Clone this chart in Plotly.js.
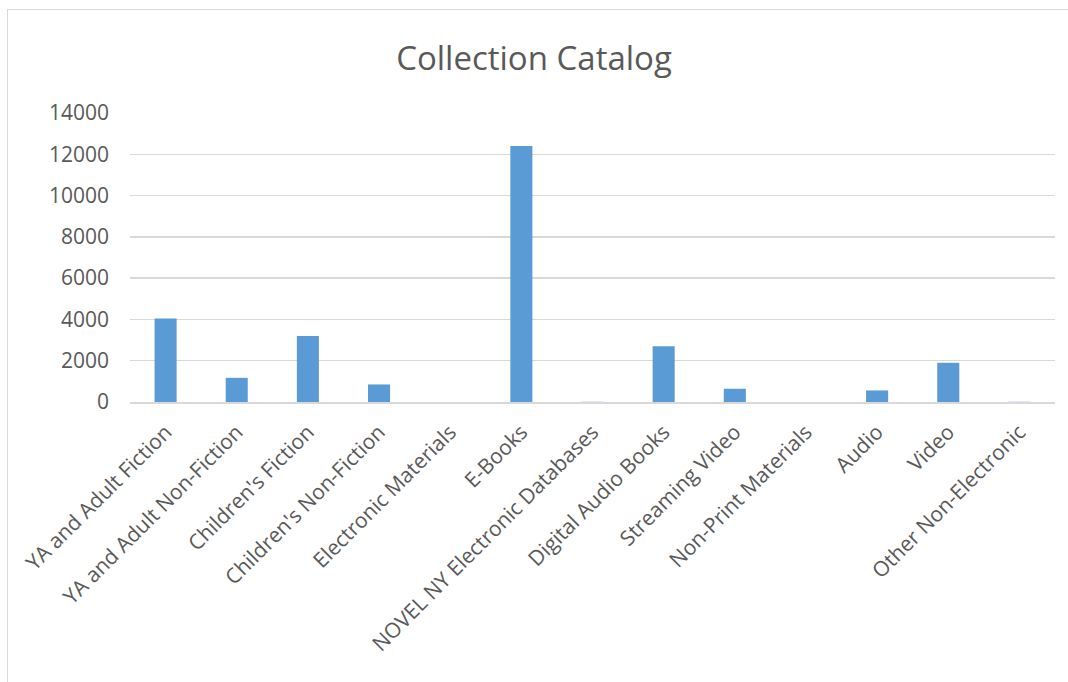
<!DOCTYPE html>
<html>
<head>
<meta charset="utf-8">
<script src="https://cdn.plot.ly/plotly-3.0.1.min.js"></script>
<style>
  html, body { margin: 0; padding: 0; background: #ffffff; overflow: hidden; }
  #wrap { position: relative; width: 1068px; height: 682px; }
  #chart { position: absolute; left: 0; top: 0; width: 1068px; height: 682px; }
  #frame { position: absolute; left: 7px; top: 9px; width: 1100px; height: 720px;
           border: 1.5px solid #d9d9d9; pointer-events: none; }
</style>
</head>
<body>
<div id="wrap">
  <div id="chart"></div>
  <div id="frame"></div>
</div>
<script>
const categories = [
  "YA and Adult Fiction",
  "YA and Adult Non-Fiction",
  "Children's Fiction",
  "Children's Non-Fiction",
  "Electronic Materials",
  "E-Books",
  "NOVEL NY Electronic Databases",
  "Digital Audio Books",
  "Streaming Video",
  "Non-Print Materials",
  "Audio",
  "Video",
  "Other Non-Electronic"
];
const counts = [4050, 1170, 3200, 850, 0, 12400, 10, 2700, 640, 0, 560, 1900, 10];
const yTicks = [0, 2000, 4000, 6000, 8000, 10000, 12000, 14000];
const chartTitle = "Collection Catalog";

const trace = {
  type: "bar",
  x: categories,
  y: counts,
  marker: { color: "#5b9bd5", line: { width: 0 } },
  hoverinfo: "x+y"
};

const layout = {
  width: 1068,
  height: 682,
  paper_bgcolor: "#ffffff",
  plot_bgcolor: "#ffffff",
  margin: { l: 130, r: 13, t: 113, b: 280 },
  bargap: 0.69,
  showlegend: false,
  font: { family: "Open Sans, sans-serif", color: "#595959" },
  title: {
    text: chartTitle,
    font: { family: "Open Sans, sans-serif", size: 33, color: "#595959" },
    x: 0.5,
    xanchor: "center",
    y: 0.915,
    yanchor: "middle"
  },
  xaxis: {
    type: "category",
    tickangle: -45,
    tickfont: { size: 21, color: "#595959" },
    showgrid: false,
    showline: true,
    linecolor: "#d9d9d9",
    linewidth: 1.5,
    ticks: "",
    zeroline: false,
    ticklabelstandoff: 8
  },
  yaxis: {
    range: [0, 14000],
    tickvals: yTicks,
    ticktext: yTicks.map(String),
    tickfont: { size: 21, color: "#595959" },
    showgrid: true,
    gridcolor: "#d9d9d9",
    gridwidth: 1.5,
    zeroline: false,
    showline: false,
    ticks: "",
    ticklabelstandoff: 20
  }
};

Plotly.newPlot("chart", [trace], layout, { displayModeBar: false, staticPlot: true });
</script>
</body>
</html>
